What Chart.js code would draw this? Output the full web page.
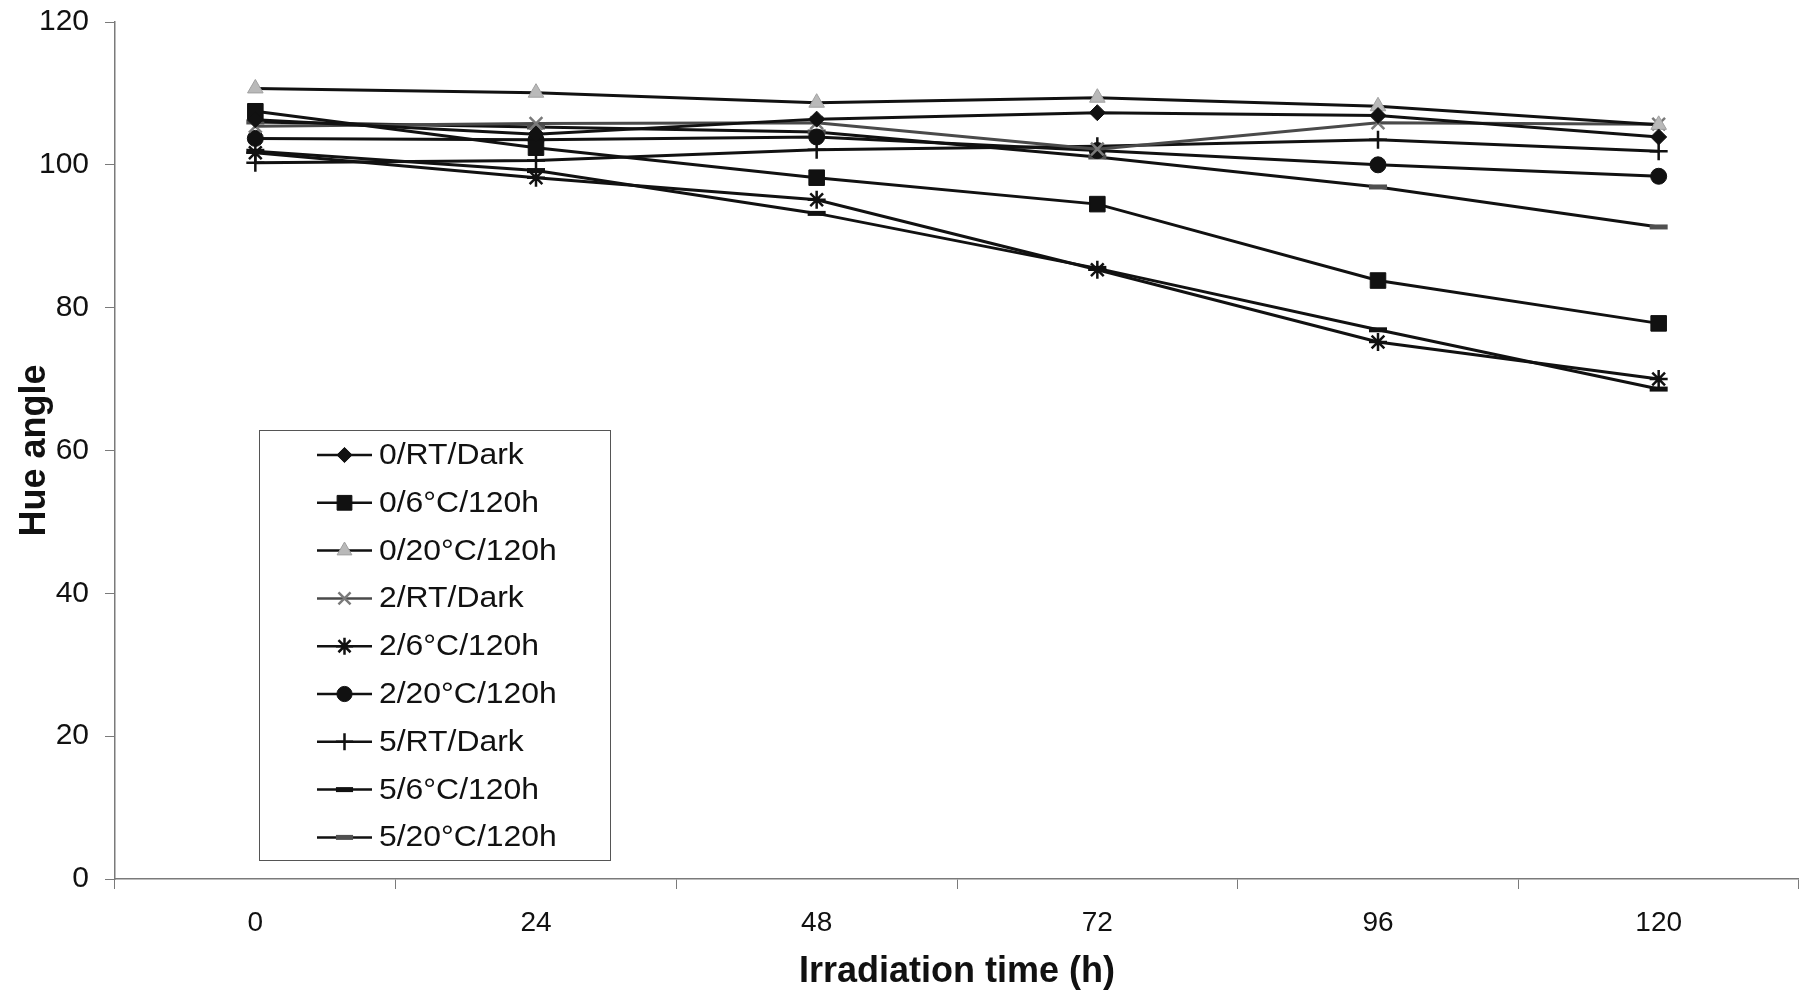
<!DOCTYPE html>
<html>
<head>
<meta charset="utf-8">
<title>Hue angle vs irradiation time</title>
<script src="https://cdn.jsdelivr.net/npm/chart.js@4/dist/chart.umd.min.js"></script>
<style>
  html, body { margin: 0; padding: 0; background: #fff; overflow: hidden; }
  #wrap { width: 1799px; height: 992px; }
  #hue { display: block; }
</style>
</head>
<body>
<div id="wrap"><canvas id="hue" width="1799" height="992"></canvas></div>
<script>
// irradiation times (h)
const hours = ['0', '24', '48', '72', '96', '120'];

// hue angle per treatment: sulphite level / storage temp / storage time
const rtDark0 = [106.3, 104.3, 106.4, 107.3, 106.9, 103.9];
const cold0   = [107.5, 102.4, 98.2, 94.5, 83.8, 77.8];
const warm0   = [110.7, 110.1, 108.7, 109.4, 108.2, 105.6];
const rtDark2 = [105.4, 105.8, 105.9, 102.2, 105.9, 105.7];
const cold2   = [101.7, 98.2, 95.1, 85.3, 75.2, 70.0];
const warm2   = [103.7, 103.5, 103.9, 102.0, 100.0, 98.4];
const rtDark5 = [100.3, 100.6, 102.1, 102.6, 103.5, 101.9];
const cold5   = [101.9, 99.2, 93.2, 85.5, 76.9, 68.6];
const warm5   = [106.0, 105.3, 104.6, 101.1, 96.9, 91.3];

const seriesNames = ['0/RT/Dark', '0/6°C/120h', '0/20°C/120h', '2/RT/Dark', '2/6°C/120h',
  '2/20°C/120h', '5/RT/Dark', '5/6°C/120h', '5/20°C/120h'];
const seriesValues = [rtDark0, cold0, warm0, rtDark2, cold2, warm2, rtDark5, cold5, warm5];

// marker look for each series (Excel-like black & white)
const markers = [
  { style: 'rectRot',  r: 8,  fill: '#111', stroke: '#111', bw: 1,   line: '#111' },
  { style: 'rect',     r: 11, fill: '#111', stroke: '#111', bw: 1,   line: '#111' },
  { style: 'triangle', r: 9,  fill: '#b9b9b9', stroke: '#a0a0a0', bw: 1, line: '#111' },
  { style: 'crossRot', r: 9,  fill: '#888', stroke: '#7a7a7a', bw: 2.5, line: '#4a4a4a' },
  { style: 'star',     r: 9,  fill: '#111', stroke: '#111', bw: 2.5, line: '#111' },
  { style: 'circle',   r: 8,  fill: '#111', stroke: '#111', bw: 1,   line: '#111' },
  { style: 'cross',    r: 9,  fill: '#111', stroke: '#111', bw: 2.5, line: '#111' },
  { style: 'line',     r: 9,  fill: '#111', stroke: '#111', bw: 5,   line: '#111' },
  { style: 'line',     r: 9,  fill: '#555', stroke: '#505050', bw: 5, line: '#111' }
];

const datasets = seriesNames.map((name, i) => ({
  label: name,
  data: seriesValues[i],
  borderColor: markers[i].line,
  borderWidth: 3,
  tension: 0,
  fill: false,
  pointStyle: markers[i].style,
  pointRadius: markers[i].r,
  pointHoverRadius: markers[i].r,
  pointBackgroundColor: markers[i].fill,
  pointBorderColor: markers[i].stroke,
  pointBorderWidth: markers[i].bw,
  clip: false
}));

// boxed legend sitting inside the plot, lower left
const boxLegend = {
  id: 'boxLegend',
  afterDraw(chart) {
    const ctx = chart.ctx;
    ctx.save();
    ctx.strokeStyle = '#555';
    ctx.lineWidth = 1;
    ctx.fillStyle = '#fff';
    ctx.fillRect(259.5, 430.5, 351, 430);
    ctx.strokeRect(259.5, 430.5, 351, 430);
    ctx.font = '29px "Liberation Sans", Arial, sans-serif';
    ctx.textBaseline = 'middle';
    chart.data.datasets.forEach((ds, i) => {
      const y = 455 + i * 47.8;
      ctx.strokeStyle = ds.borderColor;
      ctx.lineWidth = 2.5;
      ctx.beginPath();
      ctx.moveTo(317, y);
      ctx.lineTo(372, y);
      ctx.stroke();
      ctx.fillStyle = ds.pointBackgroundColor;
      ctx.strokeStyle = ds.pointBorderColor;
      ctx.lineWidth = ds.pointBorderWidth;
      Chart.helpers.drawPoint(ctx, {
        pointStyle: ds.pointStyle,
        radius: ds.pointRadius * 0.95,
        rotation: 0,
        borderWidth: ds.pointBorderWidth
      }, 344.5, y);
      // legend text is a little wider than plain Arial
      ctx.save();
      ctx.translate(379, y + 1);
      ctx.scale(1.1, 1);
      ctx.fillStyle = '#111';
      ctx.fillText(ds.label, 0, 0);
      ctx.restore();
    });
    ctx.restore();
  }
};

new Chart(document.getElementById('hue'), {
  type: 'line',
  data: { labels: hours, datasets },
  plugins: [boxLegend],
  options: {
    responsive: false,
    animation: false,
    layout: { autoPadding: false, padding: { top: 22, left: 0, right: 0, bottom: 0 } },
    plugins: { legend: { display: false }, tooltip: { enabled: false } },
    scales: {
      x: {
        type: 'category',
        offset: true,
        grid: { offset: true, drawOnChartArea: false, tickLength: 10, color: '#7a7a7a', lineWidth: 1 },
        border: { color: '#7a7a7a', width: 1.5 },
        ticks: { color: '#111', padding: 17, font: { family: '"Liberation Sans", Arial', size: 28 } },
        title: {
          display: true, text: 'Irradiation time (h)', color: '#111',
          font: { family: '"Liberation Sans", Arial', size: 36, weight: 'bold', lineHeight: 1.1 },
          padding: { top: 0, bottom: 0 }
        },
        afterFit(scale) {
          scale.height = 113;
          scale.paddingLeft = 0;
          scale.paddingRight = 0;
        }
      },
      y: {
        min: 0,
        max: 120,
        ticks: { stepSize: 20, color: '#111', padding: 16, font: { family: '"Liberation Sans", Arial', size: 30 } },
        grid: { drawOnChartArea: false, tickLength: 10, color: '#7a7a7a', lineWidth: 1 },
        border: { color: '#7a7a7a', width: 1.5 },
        title: {
          display: true, text: 'Hue angle', color: '#111',
          font: { family: '"Liberation Sans", Arial', size: 36, weight: 'bold', lineHeight: 1.1 },
          padding: { top: 15, bottom: 0 }
        },
        afterFit(scale) {
          scale.width = 115;
          scale.paddingTop = 0;
          scale.paddingBottom = 0;
        }
      }
    }
  }
});
</script>
</body>
</html>
